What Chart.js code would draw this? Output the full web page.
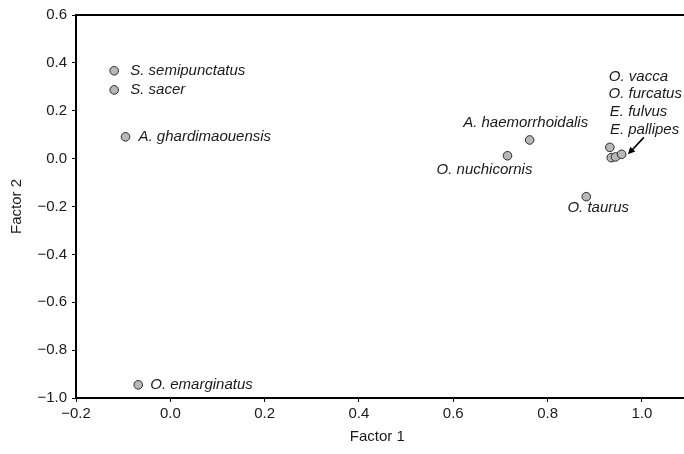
<!DOCTYPE html>
<html>
<head>
<meta charset="utf-8">
<script src="https://cdn.jsdelivr.net/npm/chart.js@4.4.1/dist/chart.umd.min.js"></script>
<style>
  body { margin: 0; background: #fff; }
  #wrap { width: 684px; height: 454px; }
</style>
</head>
<body>
<div id="wrap"><canvas id="myChart" width="684" height="454"></canvas></div>
<script>
// species names and factor scores
const species = [
  'S. semipunctatus', 'S. sacer', 'A. ghardimaouensis', 'O. emarginatus',
  'A. haemorrhoidalis', 'O. nuchicornis', 'O. taurus',
  'O. vacca', 'O. furcatus', 'E. fulvus', 'E. pallipes'
];
const factor1 = [-0.119, -0.119, -0.095, -0.068, 0.762, 0.715, 0.882, 0.932, 0.935, 0.944, 0.957];
const factor2 = [0.367, 0.287, 0.091, -0.945, 0.078, 0.012, -0.159, 0.047, 0.004, 0.007, 0.018];

// tick values
const xTicks = [-0.2, 0.0, 0.2, 0.4, 0.6, 0.8, 1.0];
const yTicks = [-1.0, -0.8, -0.6, -0.4, -0.2, 0.0, 0.2, 0.4, 0.6];

// where each name sits, relative to its point (px): dx, dy, align
const labelOffsets = [
  [16, 0, 'left'], [16, 0, 'left'], [13, 0, 'left'], [12, 0, 'left'],
  [-4, -17, 'center'], [-23, 14, 'center'], [12, 11, 'center'],
  [-1, -70.6, 'left'], [-2.7, -63.4, 'left'], [-5.7, -44.7, 'left'], [-11.7, -24.3, 'left']
];

const points = factor1.map((x, i) => ({x: x, y: factor2[i]}));
const fmt = v => v.toFixed(1).replace('-', '\u2212');
const fontFam = '"Liberation Sans", Arial, sans-serif';

// names, arrow and the frame lines running off the right edge
const extras = {
  id: 'extras',
  afterDatasetsDraw(chart) {
    const ctx = chart.ctx;
    const xs = chart.scales.x, ys = chart.scales.y;
    const area = chart.chartArea;
    ctx.save();
    ctx.strokeStyle = '#000';
    ctx.lineWidth = 2;
    ctx.beginPath();
    ctx.moveTo(area.left - 1, area.top);
    ctx.lineTo(chart.width, area.top);
    ctx.moveTo(area.right - 1, area.bottom);
    ctx.lineTo(chart.width, area.bottom);
    ctx.stroke();

    ctx.fillStyle = '#1a1a1a';
    ctx.font = 'italic 15px ' + fontFam;
    ctx.textBaseline = 'middle';
    for (let i = 0; i < species.length; i++) {
      const px = xs.getPixelForValue(factor1[i]);
      const py = ys.getPixelForValue(factor2[i]);
      const o = labelOffsets[i];
      ctx.textAlign = o[2];
      ctx.fillText(species[i], px + o[0], py + o[1]);
    }

    // arrow pointing at the tight group
    const gx = xs.getPixelForValue(factor1[7]);
    const gy = ys.getPixelForValue(factor2[7]);
    const x0 = gx + 34, y0 = gy - 10, x1 = gx + 18, y1 = gy + 7;
    ctx.strokeStyle = '#000';
    ctx.lineWidth = 1.5;
    ctx.beginPath();
    ctx.moveTo(x0, y0);
    ctx.lineTo(x1 + 3, y1 - 3);
    ctx.stroke();
    const ang = Math.atan2(y1 - y0, x1 - x0);
    ctx.fillStyle = '#000';
    ctx.beginPath();
    ctx.moveTo(x1, y1);
    ctx.lineTo(x1 - 8 * Math.cos(ang - 0.45), y1 - 8 * Math.sin(ang - 0.45));
    ctx.lineTo(x1 - 8 * Math.cos(ang + 0.45), y1 - 8 * Math.sin(ang + 0.45));
    ctx.closePath();
    ctx.fill();
    ctx.restore();
  }
};

const myChart = document.getElementById('myChart');

let scatterChart = new Chart(myChart, {
  type: 'scatter',
  data: {
    datasets: [{
      data: points,
      pointRadius: 4.3,
      pointHoverRadius: 4.3,
      pointBackgroundColor: '#b8b8b8',
      pointBorderColor: '#2a2a2a',
      pointBorderWidth: 1
    }]
  },
  options: {
    responsive: false,
    animation: false,
    layout: { padding: { top: 15, right: 0, left: 0, bottom: 0 } },
    plugins: {
      legend: { display: false },
      tooltip: { enabled: false }
    },
    scales: {
      x: {
        type: 'linear',
        min: -0.2,
        max: 1.078,
        afterFit: s => { s.height = 56; },
        afterBuildTicks: s => { s.ticks = xTicks.map(v => ({value: v})); },
        border: { display: true, color: '#000', width: 2 },
        grid: { display: true, drawOnChartArea: false, tickLength: 4, tickColor: '#000', lineWidth: 1 },
        ticks: {
          callback: v => fmt(v),
          color: '#1a1a1a',
          padding: 3,
          maxRotation: 0,
          font: { family: fontFam, size: 15 }
        },
        title: {
          display: true,
          text: 'Factor 1',
          color: '#1a1a1a',
          padding: { top: 0, bottom: 8 },
          font: { family: fontFam, size: 15 }
        }
      },
      y: {
        type: 'linear',
        min: -1.0,
        max: 0.6,
        afterFit: s => { s.width = 76; },
        afterBuildTicks: s => { s.ticks = yTicks.map(v => ({value: v})); },
        border: { display: true, color: '#000', width: 2 },
        grid: { display: true, drawOnChartArea: false, tickLength: 4, tickColor: '#000', lineWidth: 1 },
        ticks: {
          callback: v => fmt(v),
          color: '#1a1a1a',
          padding: 5,
          font: { family: fontFam, size: 15 }
        },
        title: {
          display: true,
          text: 'Factor 2',
          color: '#1a1a1a',
          padding: { top: 8, bottom: 0 },
          font: { family: fontFam, size: 15 }
        }
      }
    }
  },
  plugins: [extras]
});
</script>
</body>
</html>
